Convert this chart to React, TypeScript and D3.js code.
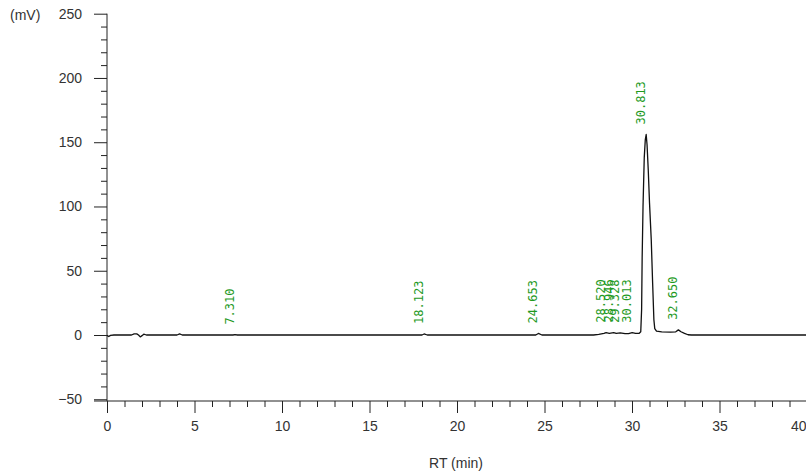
import React, { useEffect, useRef } from 'react';
import * as d3 from 'd3';

// Chromatogram trace (retention time in min, signal in mV)
const rtMinutes = [
  0.0, 0.1, 0.2, 0.4, 1.4, 1.55, 1.7, 1.8, 1.9, 2.0, 2.1, 2.25,
  4.0, 4.15, 4.3, 7.2, 7.31, 7.45, 18.0, 18.12, 18.3, 24.5, 24.65, 24.85,
  27.8, 28.1, 28.4, 28.52, 28.7, 28.95, 29.1, 29.33, 29.6, 29.8, 30.01, 30.2,
  30.4, 30.5, 30.55, 30.58, 30.63, 30.7, 30.76, 30.81, 30.86, 30.93, 31.0, 31.1,
  31.18, 31.25, 31.3, 31.4, 31.7, 32.2, 32.5, 32.65, 32.8, 33.0, 33.2, 33.4, 40.0,
];
const signalMv = [
  -0.3, -1.2, -0.3, 0, 0, 0.8, 0.9, 0, -1.5, -0.5, 0.6, 0,
  0, 0.8, 0, 0, 0.3, 0, 0, 0.8, 0, 0, 1.2, 0,
  0, 0.5, 1.2, 1.8, 1.3, 1.9, 1.2, 1.6, 1.0, 1.0, 1.8, 1.2,
  1.2, 2.5, 20, 60, 100, 138, 152, 156, 148, 128, 103, 74,
  40, 12, 5, 3, 2.5, 2.2, 2.5, 4, 2.5, 1.2, 0.2, 0, 0,
];

// Integrated peaks
const peakTimes = [7.31, 18.123, 24.653, 28.52, 28.946, 29.328, 30.013, 30.813, 32.65];
const peakHeights = [0.3, 0.8, 1.2, 1.8, 1.9, 1.6, 1.8, 156, 4];

const xMajorTicks = [0, 5, 10, 15, 20, 25, 30, 35, 40];
const yMajorTicks = [-50, 0, 50, 100, 150, 200, 250];

const W = 806;
const H = 476;

const App: React.FC = () => {
  const svgRef = useRef<SVGSVGElement>(null);

  useEffect(() => {
    if (!svgRef.current) return;
    const svg = d3.select(svgRef.current);
    svg.selectAll('*').remove();

    const axisY = 401; // x-axis line position
    const x = d3.scaleLinear().domain([0, 40]).range([107, 807]);
    const y = d3.scaleLinear().domain([0, 250]).range([335, 13.7]);

    const axisColor = '#222';
    const textColor = '#333';
    const font = '"Liberation Sans", Arial, sans-serif';

    // Y axis: minor ticks every 10 mV
    const yMinor = d3.range(-50, 251, 10).filter(v => v % 50 !== 0);
    svg.append('g')
      .attr('transform', 'translate(107,0)')
      .call(d3.axisLeft(y).tickValues(yMinor).tickSize(6).tickFormat(() => ''))
      .call(g => g.select('.domain').remove())
      .call(g => g.selectAll('line').attr('stroke', axisColor));

    const yAxis = svg.append('g')
      .attr('transform', 'translate(107,0)')
      .call(d3.axisLeft(y).tickValues(yMajorTicks).tickSize(13).tickPadding(12))
      .call(g => g.select('.domain').remove());
    yAxis.selectAll('line').attr('stroke', axisColor);
    yAxis.selectAll('text')
      .attr('fill', textColor)
      .style('font-family', font)
      .style('font-size', '14px');

    // X axis: minor ticks every 1 min
    const xMinor = d3.range(0, 41, 1).filter(v => v % 5 !== 0);
    svg.append('g')
      .attr('transform', `translate(0,${axisY})`)
      .call(d3.axisBottom(x).tickValues(xMinor).tickSize(6).tickFormat(() => ''))
      .call(g => g.select('.domain').remove())
      .call(g => g.selectAll('line').attr('stroke', axisColor));

    const xAxis = svg.append('g')
      .attr('transform', `translate(0,${axisY})`)
      .call(d3.axisBottom(x).tickValues(xMajorTicks).tickSize(12).tickPadding(8))
      .call(g => g.select('.domain').remove());
    xAxis.selectAll('line').attr('stroke', axisColor);
    xAxis.selectAll('text')
      .attr('fill', textColor)
      .style('font-family', font)
      .style('font-size', '14px');
    // last label would be clipped at the edge
    xAxis.selectAll<SVGTextElement, number>('text')
      .filter(d => d === 40)
      .attr('text-anchor', 'end')
      .attr('x', -1);

    // Axis lines
    svg.append('line')
      .attr('x1', 107).attr('x2', 107)
      .attr('y1', y(250)).attr('y2', axisY)
      .attr('stroke', axisColor);
    svg.append('line')
      .attr('x1', 94).attr('x2', W)
      .attr('y1', axisY).attr('y2', axisY)
      .attr('stroke', axisColor);

    // Unit labels
    svg.append('text')
      .attr('x', 10).attr('y', y(250) + 6)
      .attr('fill', textColor)
      .style('font-family', font)
      .style('font-size', '14px')
      .text('(mV)');
    svg.append('text')
      .attr('x', 456).attr('y', 468)
      .attr('text-anchor', 'middle')
      .attr('fill', textColor)
      .style('font-family', font)
      .style('font-size', '14px')
      .text('RT (min)');

    // Trace
    const trace = rtMinutes.map((t, i) => [t, signalMv[i]] as [number, number]);
    const line = d3.line<[number, number]>()
      .x(d => x(d[0]))
      .y(d => y(d[1]));
    svg.append('path')
      .datum(trace)
      .attr('d', line)
      .attr('fill', 'none')
      .attr('stroke', '#111')
      .attr('stroke-width', 1.3)
      .attr('stroke-linejoin', 'round');

    // Peak labels
    svg.selectAll('.peak-label')
      .data(peakTimes.map((t, i) => ({ t, h: peakHeights[i] })))
      .enter()
      .append('text')
      .attr('class', 'peak-label')
      .attr('transform', d => `translate(${x(d.t) - 1},${y(d.h) - 10}) rotate(-90)`)
      .attr('fill', '#1f9a1f')
      .style('font-family', '"DejaVu Sans Mono", monospace')
      .style('font-size', '12px')
      .text(d => d.t.toFixed(3));
  }, []);

  return (
    <svg
      ref={svgRef}
      width={W}
      height={H}
      style={{ position: 'absolute', left: 0, top: 0, background: '#fff' }}
    />
  );
};

export default App;
